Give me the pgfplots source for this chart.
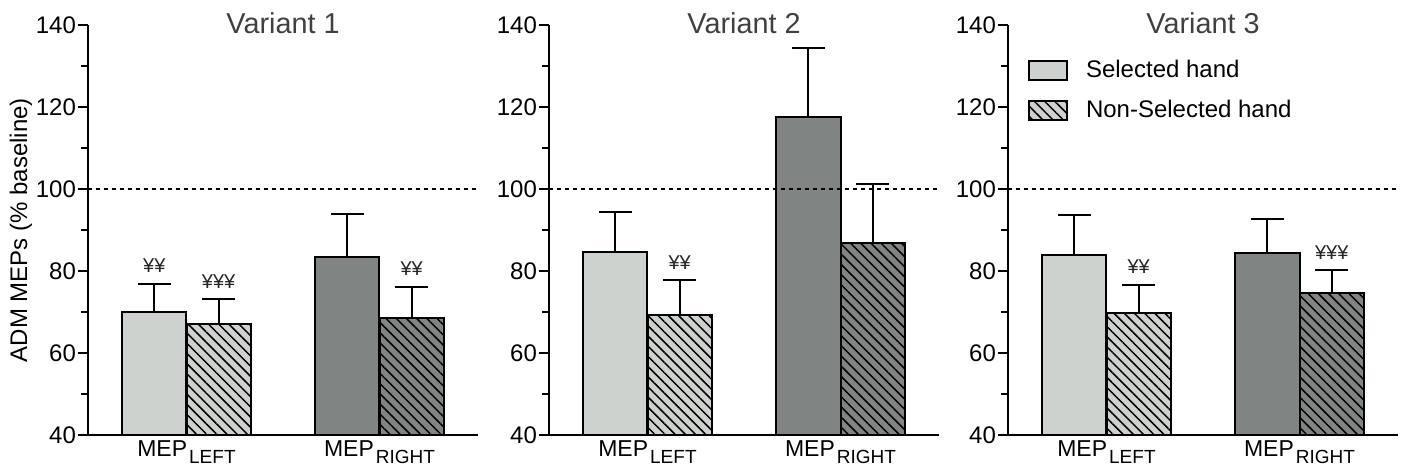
\documentclass[border=0pt]{standalone}
\usepackage{fontspec}
\setmainfont{Liberation Sans}
\usepackage{pgfplots}
\pgfplotsset{compat=1.18}
\usetikzlibrary{patterns.meta}
\definecolor{lightbar}{RGB}{206,210,207}
\definecolor{darkbar}{RGB}{128,133,132}
\definecolor{titlegray}{RGB}{64,64,64}
\pgfplotsset{
  panel/.style={
    scale only axis, width=195pt, height=205pt,
    xmin=0.49, xmax=2.51, ymin=40, ymax=140,
    axis x line=bottom, axis y line=left,
    axis line style={line width=1.1pt, -},
    ytick={40,60,...,140}, minor ytick={50,70,...,130},
    tick align=outside,
    tick style={line width=1pt, black},
    major tick length=5pt, minor tick length=3.5pt,
    xtick={1,2},
    xticklabels={MEP\hspace{1pt}\raisebox{-3.5pt}{\fontsize{9.5}{9.5}\selectfont LEFT}, MEP\hspace{1pt}\raisebox{-3.5pt}{\fontsize{9.5}{9.5}\selectfont RIGHT}},
    x tick style={draw=none},
    xticklabel style={font=\fontsize{11.5}{13}\selectfont, yshift=5.5pt},
    /pgf/number format/assume math mode=true,
    yticklabel style={font=\fontsize{12}{14}\selectfont, xshift=2.5pt},
    title style={font=\fontsize{14.4}{16}\selectfont, text=titlegray, at={(0.5,1)}, anchor=base, yshift=-10pt},
    clip=false,
  },
  hbar/.style={ybar, bar width=0.333, bar shift=0pt, draw=black, line width=1pt, fill=#1,
    error bars/y dir=plus, error bars/y explicit,
    error bars/error bar style={line width=1pt, black},
    error bars/error mark options={rotate=90, mark size=8.25pt, line width=1pt, black}},
  hatch/.style={postaction={pattern={Lines[angle=-45,distance=3.6pt,line width=0.75pt]}, pattern color=black}},
  yen/.style={forget plot, draw=none, mark=none, nodes near coords, point meta=explicit symbolic,
    nodes near coords style={anchor=base, inner sep=0pt, yshift=5.4pt, font=\fontsize{10}{10}\selectfont, text=black!85}},
  refline/.style={forget plot, black, line width=1pt, dash pattern=on 2pt off 2pt},
}
\begin{document}
\begin{tikzpicture}
\useasboundingbox (-44pt,-18.5pt) rectangle (658pt,217.5pt);
% Panel 1
\begin{axis}[panel, at={(0pt,0pt)}, title={Variant 1},
  ylabel={ADM MEPs (\% baseline)}, ylabel style={font=\fontsize{12}{14}\selectfont}, ylabel shift=-5pt]
\addplot[hbar=lightbar] coordinates {(0.8333,70.1) +- (0,6.8)};
\addplot[hbar=lightbar, hatch] coordinates {(1.1667,67.0) +- (0,6.2)};
\addplot[hbar=darkbar] coordinates {(1.8333,83.5) +- (0,10.4)};
\addplot[hbar=darkbar, hatch] coordinates {(2.1667,68.6) +- (0,7.6)};
\addplot[yen] coordinates {(0.8333,76.9)[¥¥] (1.1667,73.2)[¥¥¥] (2.1667,76.2)[¥¥]};
\addplot[refline] coordinates {(0.49,100) (2.51,100)};
\end{axis}
% Panel 2
\begin{axis}[panel, at={(230.5pt,0pt)}, title={Variant 2}]
\addplot[hbar=lightbar] coordinates {(0.8333,84.6) +- (0,9.7)};
\addplot[hbar=lightbar, hatch] coordinates {(1.1667,69.3) +- (0,8.4)};
\addplot[hbar=darkbar] coordinates {(1.8333,117.6) +- (0,16.9)};
\addplot[hbar=darkbar, hatch] coordinates {(2.1667,86.8) +- (0,14.4)};
\addplot[yen] coordinates {(1.1667,77.7)[¥¥]};
\addplot[refline] coordinates {(0.49,100) (2.51,100)};
\end{axis}
% Panel 3
\begin{axis}[panel, at={(460pt,0pt)}, title={Variant 3},
  legend image code/.code={\draw[#1, line width=1pt] (0pt,-4.75pt) rectangle (19pt,4.75pt);},
  legend style={draw=none, fill=none, at={(0.035,0.935)}, anchor=north west,
    font=\fontsize{12}{14}\selectfont, row sep=6pt,
    /tikz/every odd column/.append style={column sep=7pt}},
  legend cell align=left]
\addplot[hbar=lightbar] coordinates {(0.8333,83.8) +- (0,9.9)};
\addplot[hbar=lightbar, hatch] coordinates {(1.1667,69.8) +- (0,6.9)};
\addplot[hbar=darkbar] coordinates {(1.8333,84.3) +- (0,8.3)};
\addplot[hbar=darkbar, hatch] coordinates {(2.1667,74.6) +- (0,5.6)};
\addplot[yen] coordinates {(1.1667,76.7)[¥¥] (2.1667,80.2)[¥¥¥]};
\addplot[refline] coordinates {(0.49,100) (2.51,100)};
\legend{Selected hand, Non-Selected hand}
\end{axis}
\end{tikzpicture}
\end{document}
